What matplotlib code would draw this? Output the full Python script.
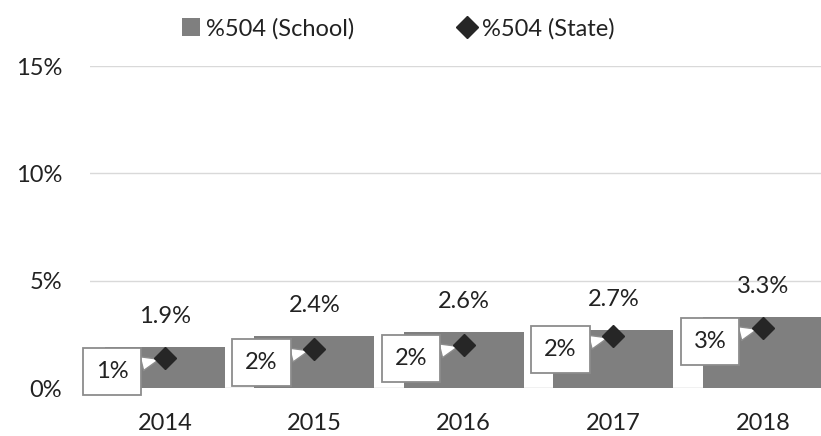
import matplotlib.pyplot as plt
from matplotlib.patches import Patch
from matplotlib.lines import Line2D
import numpy as np

plt.rcParams['font.family'] = ['Lato', 'DejaVu Sans']

years = ['2014', '2015', '2016', '2017', '2018']
school = [1.9, 2.4, 2.6, 2.7, 3.3]
state = [1.4, 1.8, 2.0, 2.4, 2.8]
yticks = [0, 5, 10, 15]

txt = '#222222'
fs = 17

fig = plt.figure(figsize=(8.21, 4.36), dpi=100)
ax = fig.add_axes([90/821, 48/436, 747.5/821, 322/436])

x = np.arange(len(years))
ax.bar(x, school, width=0.8, color='#7f7f7f', zorder=2)
ax.plot(x, state, linestyle='none', marker='D', markersize=11,
        color='#262626', zorder=6)

# school labels above bars
for i, v in enumerate(school):
    ax.annotate(f'{v:.1f}%', xy=(i, v), xytext=(0, 22), textcoords='offset points',
                ha='center', va='center', fontsize=fs, color=txt)

# state callouts
for i, v in enumerate(state):
    ax.annotate(f'{v:.0f}%', xy=(i, v), xytext=(-38, -9.5), textcoords='offset points',
                ha='center', va='center', fontsize=fs, color=txt, zorder=5,
                bbox=dict(boxstyle='square,pad=0.55', fc='white', ec='#8c8c8c', lw=1.3),
                arrowprops=dict(arrowstyle='wedge,tail_width=0.6,shrink_factor=0.5',
                                fc='white', ec='#8c8c8c', lw=1, shrinkA=0, shrinkB=4))

ax.set_xlim(-0.5, 4.5)
ax.set_ylim(0, 15)
ax.set_xticks(x)
ax.set_xticklabels(years)
ax.set_yticks(yticks)
ax.set_yticklabels([f'{t}%' for t in yticks])
ax.tick_params(axis='both', length=0, labelsize=fs, colors=txt)
ax.tick_params(axis='y', pad=20)
ax.tick_params(axis='x', pad=18)
ax.grid(axis='y', color='#d9d9d9', lw=1)
ax.set_axisbelow(True)
for s in ax.spines.values():
    s.set_visible(False)
ax.axhline(0, color='#d9d9d9', lw=1, zorder=1)

handles = [Patch(facecolor='#7f7f7f', label='%504 (School)'),
           Line2D([], [], linestyle='none', marker='D', markersize=11,
                  color='#262626', label='%504 (State)')]
fig.legend(handles=handles, loc='center', bbox_to_anchor=(0.485, 0.935), ncol=2,
           frameon=False, fontsize=fs, handlelength=0.75, handleheight=0.75,
           handletextpad=0.25, columnspacing=4.4, labelcolor=txt)

fig.savefig('out.png', dpi=100)
